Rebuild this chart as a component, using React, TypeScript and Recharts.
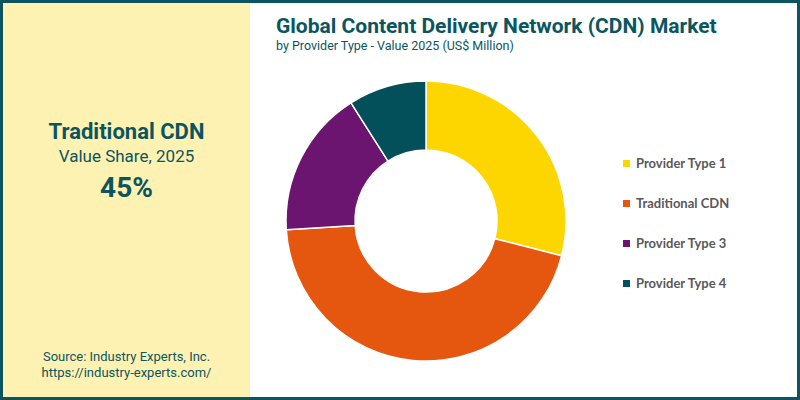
import { Pie, PieChart, Cell } from "recharts";

// provider-type share of the 2025 CDN market (%), clockwise from 12 o'clock
const providers = ["Provider Type 1", "Traditional CDN", "Provider Type 3", "Provider Type 4"];
const shares = [29, 45, 17, 9];
const sliceColors = ["#FDD600", "#E5560F", "#6B1470", "#03505A"];

const data = providers.map((name, i) => ({ name, value: shares[i] }));

const teal = "#0B5560";

function LegendList() {
  return (
    <div style={{ position: "absolute", left: 620, top: 140 }}>
      {data.map((d, i) => (
        <div
          key={d.name}
          style={{
            display: "flex",
            alignItems: "center",
            height: 40,
            fontFamily: "Lato, 'Open Sans', sans-serif",
            fontWeight: 700,
            fontSize: 13,
            color: "#595959",
          }}
        >
          <span style={{ width: 7, height: 7, background: sliceColors[i], marginRight: 6, display: "inline-block" }} />
          {d.name}
        </div>
      ))}
    </div>
  );
}

export default function App() {
  return (
    <div
      style={{
        position: "absolute",
        top: 0,
        left: 0,
        width: 800,
        height: 400,
        boxSizing: "border-box",
        border: `3px solid ${teal}`,
        background: "#fff",
        fontFamily: "Roboto, sans-serif",
        overflow: "hidden",
      }}
    >
      <div
        style={{
          position: "absolute",
          left: 0,
          top: 0,
          width: 247,
          height: 394,
          background: "#FEF2B3",
          color: teal,
          textAlign: "center",
        }}
      >
        <div style={{ position: "absolute", top: 116, width: "100%", fontSize: 22, fontWeight: 700 }}>
          Traditional CDN
        </div>
        <div style={{ position: "absolute", top: 143, width: "100%", fontSize: 17 }}>Value Share, 2025</div>
        <div style={{ position: "absolute", top: 168, width: "100%", fontSize: 28, fontWeight: 700 }}>45%</div>
        <div style={{ position: "absolute", top: 346, width: "100%", fontSize: 13, lineHeight: "16px" }}>
          Source: Industry Experts, Inc.
          <br />
          https://industry-experts.com/
        </div>
      </div>
      <div style={{ position: "absolute", left: 273, top: 10, color: teal }}>
        <div style={{ fontSize: 21, fontWeight: 700, lineHeight: "26px" }}>
          Global Content Delivery Network (CDN) Market
        </div>
        <div style={{ fontSize: 12.5, lineHeight: "14px" }}>by Provider Type - Value 2025 (US$ Million)</div>
      </div>
      <div style={{ position: "absolute", left: 247, top: -3 }}>
        <PieChart width={350} height={400}>
          <Pie
            data={data}
            dataKey="value"
            nameKey="name"
            cx={171}
            cy={216}
            innerRadius={71}
            outerRadius={140}
            startAngle={90}
            endAngle={-270}
            stroke="#fff"
            strokeWidth={1.5}
            isAnimationActive={false}
          >
            {data.map((d, i) => (
              <Cell key={d.name} fill={sliceColors[i]} />
            ))}
          </Pie>
        </PieChart>
      </div>
      <LegendList />
    </div>
  );
}
